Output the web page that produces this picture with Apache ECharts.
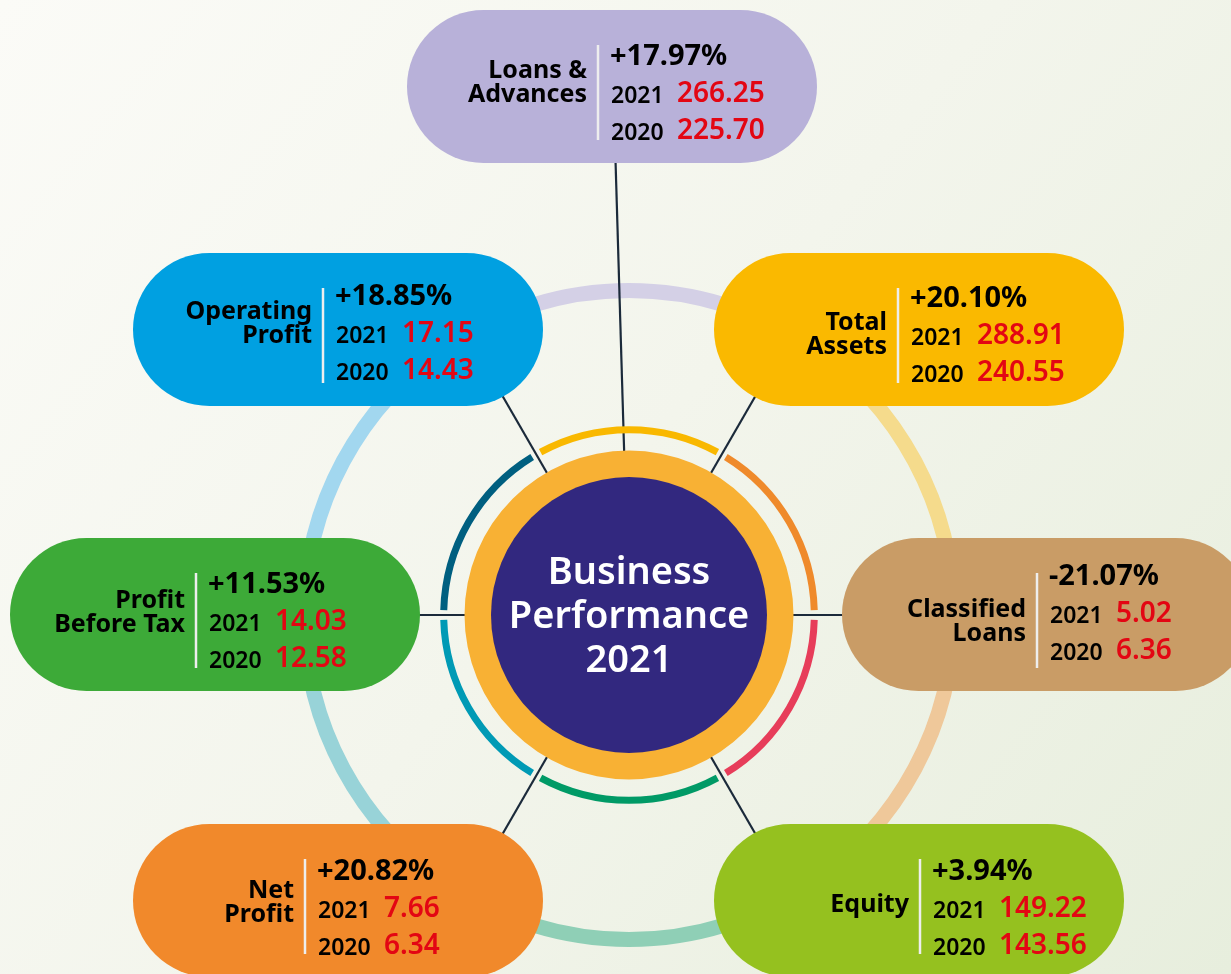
<!DOCTYPE html>
<html>
<head>
<meta charset="utf-8">
<title>Business Performance 2021</title>
<script src="https://cdn.jsdelivr.net/npm/echarts@6/dist/echarts.min.js"></script>
<style>
  html, body { margin: 0; padding: 0; }
  #chart { width: 1231px; height: 974px; }
</style>
</head>
<body>
<div id="chart"></div>
<script>
// 数据
const metrics = ['Loans &\nAdvances', 'Total\nAssets', 'Classified\nLoans', 'Equity', 'Net\nProfit', 'Profit\nBefore Tax', 'Operating\nProfit']
const growth = [17.97, 20.10, -21.07, 3.94, 20.82, 11.53, 18.85]
const years = ['2021', '2020']
const values2021 = [266.25, 288.91, 5.02, 149.22, 7.66, 14.03, 17.15]
const values2020 = [225.70, 240.55, 6.36, 143.56, 6.34, 12.58, 14.43]
const title = 'Business\nPerformance\n2021'

// 布局（像素）
const W = 1231, H = 974
const CX = 629, CY = 615
const PILL_W = 410, PILL_H = 153
const FONT = '"Noto Sans", "Open Sans", sans-serif'
const LINE_COLOR = '#1B2A3A'
const RED = '#E30613'

// x/y: 左上角, div: 分隔线x, lab: 标签首行基线, row: 百分比基线, ang: 连线角度
const pillBox = [
  { x: 407, y: 10, div: 598, lab: 70, row: 57, ang: 91.7, reach: 480, color: '#B8B1D9' },
  { x: 714, y: 253, div: 898, lab: 79, row: 56, ang: 60, reach: 300, color: '#FAB900' },
  { x: 842, y: 538, div: 1037, lab: 81, row: 49, ang: 0, reach: 300, color: '#C99C66' },
  { x: 714, y: 824, div: 920, lab: 90, row: 58, ang: 300, reach: 300, color: '#95C11F' },
  { x: 133, y: 824, div: 305, lab: 76, row: 58, ang: 240, reach: 300, color: '#F1892B' },
  { x: 10, y: 538, div: 196, lab: 72, row: 57, ang: 180, reach: 300, color: '#3DAA38' },
  { x: 133, y: 253, div: 323, lab: 68, row: 54, ang: 120, reach: 300, color: '#00A0E1' },
]

// 外圈淡色环分段（角度逆时针）
const haloStops = [0, 56.5, 123.5, 180, 236.5, 303.5, 360]
const haloColors = ['#F5DB8C', '#D4D0E6', '#A2D7EF', '#98D3D8', '#8FCFB6', '#EFC89A']
// 内圈彩色弧
const arcColors = ['#EF8A2B', '#F9B800', '#005F80', '#009AB5', '#009A66', '#E73D5A']

const rad = d => d * Math.PI / 180
const fmtPct = v => (v > 0 ? '+' : '') + v.toFixed(2) + '%'

const txt = (text, x, y, size, weight, fill, align) => ({
  type: 'text',
  style: {
    text, x, y, fill,
    fontSize: size, fontWeight: weight, fontFamily: FONT,
    align, textAlign: align,
    verticalAlign: 'middle', textVerticalAlign: 'middle',
    lineHeight: 24,
  },
})

const renderPill = (params, api) => {
  const i = params.dataIndex
  const b = pillBox[i]
  const [x, y] = api.coord([api.value(0), api.value(1)])
  const [w, h] = api.size([PILL_W, PILL_H])
  const [cx, cy] = api.coord([CX, CY])
  const dx = api.coord([b.div, 0])[0]
  const a = rad(b.ang)
  const lines = metrics[i].split('\n').length
  const labY = y + b.lab + (lines - 1) * 12 - 9
  const r0 = y + b.row
  return {
    type: 'group',
    children: [
      {
        type: 'line',
        shape: {
          x1: cx + 164 * Math.cos(a), y1: cy - 164 * Math.sin(a),
          x2: cx + b.reach * Math.cos(a), y2: cy - b.reach * Math.sin(a),
        },
        style: { stroke: LINE_COLOR, lineWidth: 2.2 },
      },
      { type: 'rect', shape: { x, y, width: w, height: h, r: h / 2 }, style: { fill: b.color } },
      { type: 'line', shape: { x1: dx, y1: y + 35, x2: dx, y2: y + 130 }, style: { stroke: '#EEEEEE', lineWidth: 2.5 } },
      txt(metrics[i], dx - 11, labY, 25, 'bold', '#000', 'right'),
      txt(fmtPct(growth[i]), dx + 12, r0 - 10, 29, 'bold', '#000', 'left'),
      txt(years[0], dx + 13, r0 + 37 - 8, 23, 600, '#000', 'left'),
      txt(values2021[i].toFixed(2), dx + 79, r0 + 37 - 10, 28, 600, RED, 'left'),
      txt(years[1], dx + 13, r0 + 74 - 8, 23, 600, '#000', 'left'),
      txt(values2020[i].toFixed(2), dx + 79, r0 + 74 - 10, 28, 600, RED, 'left'),
    ],
  }
}

const chart = echarts.init(document.getElementById('chart'))

const halo = haloColors.map((c, k) => ({
  type: 'arc',
  z: 1,
  silent: true,
  shape: { cx: CX, cy: CY, r: 324.5, startAngle: -rad(haloStops[k + 1]), endAngle: -rad(haloStops[k]), clockwise: true },
  style: { stroke: c, lineWidth: 15, fill: null },
}))

const arcs = arcColors.map((c, k) => ({
  type: 'arc',
  z: 10,
  silent: true,
  shape: { cx: CX, cy: CY, r: 185.3, startAngle: -rad(k * 60 + 58.5), endAngle: -rad(k * 60 + 1.5), clockwise: true },
  style: { stroke: c, lineWidth: 7, fill: null },
}))

const option = {
  animation: false,
  grid: { left: 0, right: 0, top: 0, bottom: 0 },
  xAxis: { type: 'value', min: 0, max: W, show: false },
  yAxis: { type: 'value', min: 0, max: H, inverse: true, show: false },
  graphic: [
    {
      type: 'rect',
      z: 0,
      silent: true,
      shape: { x: 0, y: 0, width: W, height: H },
      style: {
        fill: new echarts.graphic.LinearGradient(0, 0, 1, 1, [
          { offset: 0, color: '#FBFBF7' },
          { offset: 0.5, color: '#F3F5EC' },
          { offset: 1, color: '#E7EEDD' },
        ]),
      },
    },
    ...halo,
    ...arcs,
    {
      type: 'ring',
      z: 10,
      silent: true,
      shape: { cx: CX, cy: CY, r: 164.5, r0: 137 },
      style: { fill: '#F8B134' },
    },
    {
      type: 'circle',
      z: 10,
      silent: true,
      shape: { cx: CX, cy: CY, r: 138 },
      style: { fill: '#32287F' },
    },
    {
      type: 'text',
      z: 11,
      silent: true,
      style: {
        text: title, x: CX, y: 617, fill: '#FFFFFF',
        fontSize: 38, fontWeight: 600, fontFamily: FONT,
        align: 'center', textAlign: 'center',
        verticalAlign: 'middle', textVerticalAlign: 'middle',
        lineHeight: 44,
      },
    },
  ],
  series: [
    {
      type: 'custom',
      z: 5,
      silent: true,
      renderItem: renderPill,
      data: metrics.map((name, i) => ({ name, value: [pillBox[i].x, pillBox[i].y] })),
    },
  ],
}

chart.setOption(option)

window.addEventListener('resize', () => chart.resize())
</script>
</body>
</html>
